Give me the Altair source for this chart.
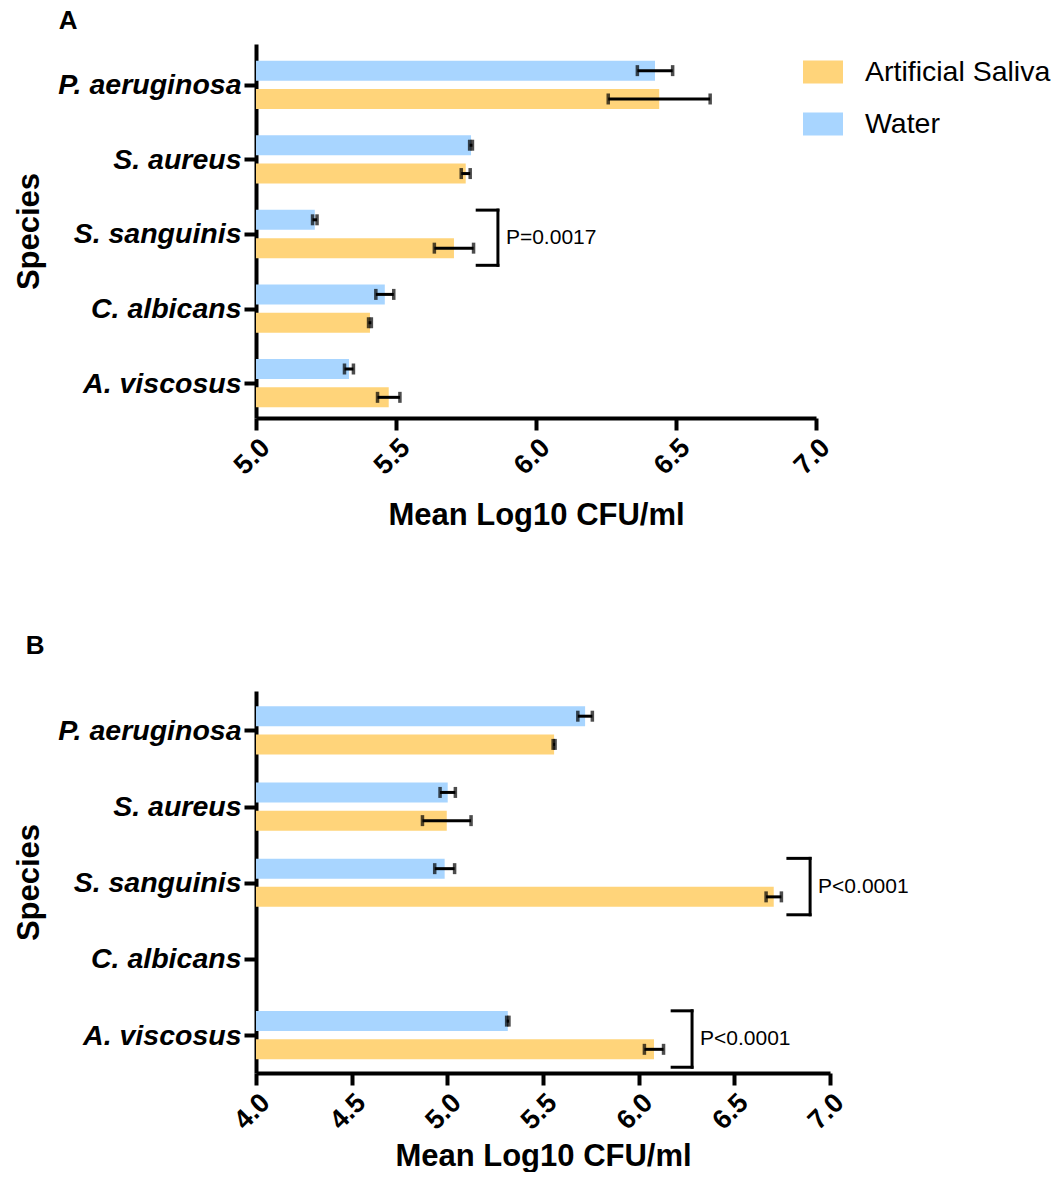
import altair as alt
import pandas as pd

species = ["P. aeruginosa", "S. aureus", "S. sanguinis", "C. albicans", "A. viscosus"]
groups = ["Artificial Saliva", "Water"]
colors = ["#FFD47A", "#A8D5FF"]

# Panel A
a_water_mean = [6.425, 5.768, 5.210, 5.460, 5.332]
a_water_err = [0.063, 0.005, 0.008, 0.032, 0.016]
a_saliva_mean = [6.440, 5.749, 5.707, 5.407, 5.474]
a_saliva_err = [0.182, 0.016, 0.070, 0.005, 0.040]

# Panel B (C. albicans not measured)
b_water_mean = [5.720, 5.002, 4.986, None, 5.316]
b_water_err = [0.038, 0.040, 0.052, None, 0.006]
b_saliva_mean = [5.558, 4.997, 6.706, None, 6.080]
b_saliva_err = [0.005, 0.127, 0.040, None, 0.050]

# Significance brackets: species, bracket x, arm start x, label
a_sig_species = ["S. sanguinis"]
a_sig_x = [5.864]
a_sig_arm = [5.790]
a_sig_text = ["P=0.0017"]

b_sig_species = ["S. sanguinis", "A. viscosus"]
b_sig_x = [6.896, 6.279]
b_sig_arm = [6.780, 6.175]
b_sig_text = ["P<0.0001", "P<0.0001"]

FONT = "Liberation Sans"
label_expr = "[" + ",".join("'%s'" % s for s in species) + "][datum.value]"


def bar_table(wm, we, sm, se, off):
    rows = []
    for i, sp in enumerate(species):
        for g, m, e, o in (("Water", wm[i], we[i], -off), ("Artificial Saliva", sm[i], se[i], off)):
            if m is None:
                continue
            rows.append(dict(species=sp, group=g, mean=m, lo=m - e, hi=m + e, pos=i + o))
    return pd.DataFrame(rows)


def bracket_tables(sp_list, xs, arms, texts):
    lines, labels = [], []
    for sp, xl, xa, t in zip(sp_list, xs, arms, texts):
        i = species.index(sp)
        top, bot = i - 0.32, i + 0.42
        lines.append(dict(x=xl, x2=xl, y=top, y2=bot))
        lines.append(dict(x=xa, x2=xl, y=top, y2=top))
        lines.append(dict(x=xa, x2=xl, y=bot, y2=bot))
        labels.append(dict(x=xl, y=i + 0.05, text=t))
    return pd.DataFrame(lines), pd.DataFrame(labels)


color_scale = alt.Scale(domain=groups, range=colors)


def panel(df, lines, labels, xmin, xticks, width, height, ydom, letter, dx, legend, toff, xtp):
    xs = alt.Scale(domain=[xmin, 7.0], nice=False, zero=False)
    ys = alt.Scale(domain=ydom, reverse=True, nice=False, zero=False)
    xaxis = alt.Axis(values=xticks, format=".1f", labelAngle=-45, title="Mean Log10 CFU/ml", titlePadding=xtp)
    yaxis = alt.Axis(values=list(range(len(species))), labelExpr=label_expr, title="Species")
    bars = alt.Chart(df).mark_bar(orient="horizontal", size=20).encode(
        x=alt.X("mean:Q", scale=xs, axis=xaxis),
        x2=alt.datum(xmin),
        y=alt.Y("pos:Q", scale=ys, axis=yaxis),
        color=alt.Color("group:N", scale=color_scale, legend=legend),
    )
    err = alt.Chart(df).mark_rule(color="black", strokeWidth=3).encode(
        x="lo:Q", x2="hi:Q", y="pos:Q"
    )
    cap_lo = alt.Chart(df).mark_tick(color="black", orient="vertical", size=11, thickness=3.5).encode(
        x="lo:Q", y="pos:Q"
    )
    cap_hi = alt.Chart(df).mark_tick(color="black", orient="vertical", size=11, thickness=3.5).encode(
        x="hi:Q", y="pos:Q"
    )
    br = alt.Chart(lines).mark_rule(color="black", strokeWidth=3, strokeCap="square").encode(
        x="x:Q", x2="x2:Q", y="y:Q", y2="y2:Q"
    )
    txt = alt.Chart(labels).mark_text(
        align="left", baseline="middle", fontSize=21, font=FONT, dx=8, color="black"
    ).encode(x="x:Q", y="y:Q", text="text:N")
    return alt.layer(bars, err, cap_lo, cap_hi, br, txt).properties(
        width=width,
        height=height,
        title=alt.TitleParams(letter, anchor="start", frame="bounds", dx=dx, fontSize=26,
                              fontWeight="bold", font=FONT, offset=toff),
    )


dfa = bar_table(a_water_mean, a_water_err, a_saliva_mean, a_saliva_err, 0.19)
dfb = bar_table(b_water_mean, b_water_err, b_saliva_mean, b_saliva_err, 0.185)
la, ta = bracket_tables(a_sig_species, a_sig_x, a_sig_arm, a_sig_text)
lb, tb = bracket_tables(b_sig_species, b_sig_x, b_sig_arm, b_sig_text)

legend_a = alt.Legend(
    title=None, orient="none", legendX=547, legendY=8,
    symbolType="M-1,-0.575H1V0.575H-1Z", symbolSize=1600, symbolStrokeWidth=0,
    labelFontSize=28.5, labelFont=FONT, labelOffset=22, rowPadding=17, labelLimit=400,
)

pa = panel(dfa, la, ta, 5.0, [5.0, 5.5, 6.0, 6.5, 7.0], 560, 374, [-0.48, 4.40], "A", 45, legend_a, 10, 22)
pb = panel(dfb, lb, tb, 4.0, [4.0, 4.5, 5.0, 5.5, 6.0, 6.5, 7.0], 574, 382, [-0.45, 4.43], "B", 12, None, 32, 8)

chart = alt.vconcat(pa, pb, spacing=102).resolve_scale(
    x="independent", y="independent", color="shared"
).resolve_legend(color="independent").configure(
    font=FONT, padding={"left": 5, "top": 0, "right": 0, "bottom": 0}
).configure_view(stroke=None).configure_axis(
    grid=False, domainColor="black", domainWidth=4, tickColor="black", tickWidth=4, tickSize=12,
    labelColor="black", titleColor="black", labelFont=FONT, titleFont=FONT,
    labelFontWeight="bold", titleFontWeight="bold", titleFontSize=31,
).configure_axisX(
    labelFontSize=27, labelPadding=4,
).configure_axisY(
    labelFontSize=28.5, labelFontStyle="italic", labelPadding=3, titlePadding=12, labelLimit=300,
)

chart.save("out.html", embed_options={"renderer": "svg", "actions": False})
